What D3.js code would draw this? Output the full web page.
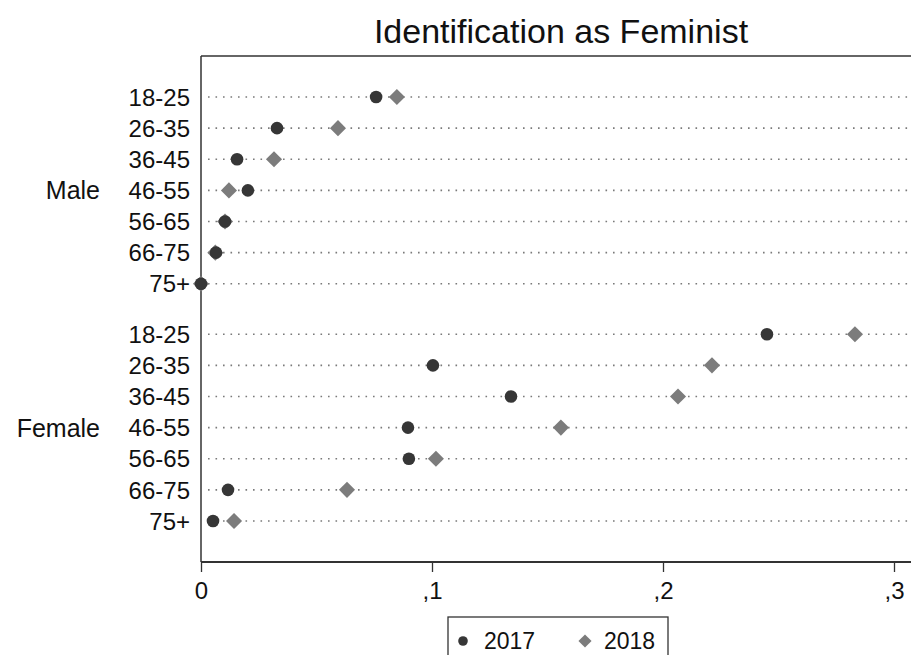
<!DOCTYPE html>
<html>
<head>
<meta charset="utf-8">
<script src="https://cdn.jsdelivr.net/npm/d3@7/dist/d3.min.js"></script>
<style>
  html, body { margin: 0; padding: 0; background: #fff; overflow: hidden; }
  svg { display: block; }
  text { font-family: "Liberation Sans", Arial, sans-serif; fill: #111; }
</style>
</head>
<body>
<svg id="chart" width="911" height="655"></svg>
<script>
// Share identifying as feminist, by sex and age group
const groups = ["Male", "Female"];
const ageGroups = ["18-25", "26-35", "36-45", "46-55", "56-65", "66-75", "75+"];
const years = ["2017", "2018"];

const male2017   = [0.0758, 0.0329, 0.0156, 0.0203, 0.0104, 0.0065, 0.0000];
const male2018   = [0.0848, 0.0593, 0.0316, 0.0121, 0.0104, 0.0062, 0.0000];
const female2017 = [0.2450, 0.1004, 0.1342, 0.0896, 0.0900, 0.0117, 0.0052];
const female2018 = [0.2831, 0.2212, 0.2065, 0.1558, 0.1017, 0.0632, 0.0143];

const xTicks = [0, 0.1, 0.2, 0.3];
const xTickLabels = ["0", ",1", ",2", ",3"];

const svg = d3.select("#chart");

const plot = { left: 201, top: 56, right: 1000, bottom: 562 };
const groupGap = 1.62; // row-steps between the last row of one group and the first of the next

// rows: index position of each (group, age) row along the vertical axis
const rows = [];
groups.forEach((g, gi) => {
  ageGroups.forEach((a, ai) => {
    rows.push({ group: g, age: a, pos: gi * (ageGroups.length - 1 + groupGap) + ai,
      v2017: gi ? female2017[ai] : male2017[ai],
      v2018: gi ? female2018[ai] : male2018[ai] });
  });
});

const lastPos = d3.max(rows, d => d.pos);
const x = d3.scaleLinear().domain([0, 0.3]).range([plot.left, 894]);
const y = d3.scaleLinear().domain([0, lastPos]).range([97, 521]);

// title
svg.append("text")
  .attr("x", 561).attr("y", 43)
  .attr("text-anchor", "middle")
  .style("font-size", "34px")
  .text("Identification as Feminist");

// dotted row guides
svg.append("g").selectAll("line").data(rows).join("line")
  .attr("x1", plot.left + 7).attr("x2", plot.right)
  .attr("y1", d => y(d.pos)).attr("y2", d => y(d.pos))
  .attr("stroke", "#7a7a7a")
  .attr("stroke-width", 1.6)
  .attr("stroke-dasharray", "1.6,5.9");

// frame: top and left edges
svg.append("line")
  .attr("x1", plot.left).attr("x2", plot.right)
  .attr("y1", plot.top).attr("y2", plot.top)
  .attr("stroke", "#333").attr("stroke-width", 1.5);
svg.append("line")
  .attr("x1", plot.left).attr("x2", plot.left)
  .attr("y1", plot.top).attr("y2", plot.bottom)
  .attr("stroke", "#333").attr("stroke-width", 1.5);

// x axis
const xAxis = d3.axisBottom(x)
  .tickValues(xTicks)
  .tickFormat((d, i) => xTickLabels[i])
  .tickSize(10)
  .tickPadding(10);
const gx = svg.append("g")
  .attr("transform", `translate(0,${plot.bottom})`)
  .call(xAxis);
gx.select(".domain").remove();
gx.append("line")
  .attr("x1", plot.left).attr("x2", plot.right)
  .attr("y1", 0).attr("y2", 0)
  .attr("stroke", "#333").attr("stroke-width", 2.2);
gx.selectAll(".tick line").attr("stroke", "#333").attr("stroke-width", 1.3);
gx.selectAll(".tick text")
  .style("font-size", "24px")
  .style("font-family", '"Liberation Sans", Arial, sans-serif')
  .attr("fill", "#111");

// age labels
svg.append("g").selectAll("text").data(rows).join("text")
  .attr("x", 190)
  .attr("y", d => y(d.pos))
  .attr("dy", "0.36em")
  .attr("text-anchor", "end")
  .style("font-size", "24px")
  .text(d => d.age);

// group labels centred on each block
groups.forEach(g => {
  const r = rows.filter(d => d.group === g);
  const mid = (y(r[0].pos) + y(r[r.length - 1].pos)) / 2;
  svg.append("text")
    .attr("x", 100).attr("y", mid)
    .attr("dy", "0.36em")
    .attr("text-anchor", "end")
    .style("font-size", "25px")
    .text(g);
});

const c2017 = "#363636", c2018 = "#7c7c7c";
const diamond = d3.symbol().type(d3.symbolDiamond2).size(165);

// 2018 markers (diamonds), drawn first so 2017 circles sit on top
svg.append("g").selectAll("path").data(rows).join("path")
  .attr("d", diamond)
  .attr("transform", d => `translate(${x(d.v2018)},${y(d.pos)})`)
  .attr("fill", c2018);

// 2017 markers (circles)
svg.append("g").selectAll("circle").data(rows).join("circle")
  .attr("cx", d => x(d.v2017))
  .attr("cy", d => y(d.pos))
  .attr("r", 6.3)
  .attr("fill", c2017);

// legend
const lg = svg.append("g");
lg.append("rect")
  .attr("x", 448).attr("y", 617)
  .attr("width", 220).attr("height", 60)
  .attr("fill", "#fff")
  .attr("stroke", "#333").attr("stroke-width", 1.3);
lg.append("circle").attr("cx", 463).attr("cy", 641).attr("r", 4.8).attr("fill", c2017);
lg.append("text").attr("x", 484).attr("y", 649).style("font-size", "23px").text(years[0]);
lg.append("path")
  .attr("d", d3.symbol().type(d3.symbolDiamond2).size(110))
  .attr("transform", "translate(585,641)")
  .attr("fill", c2018);
lg.append("text").attr("x", 604).attr("y", 649).style("font-size", "23px").text(years[1]);
</script>
</body>
</html>
